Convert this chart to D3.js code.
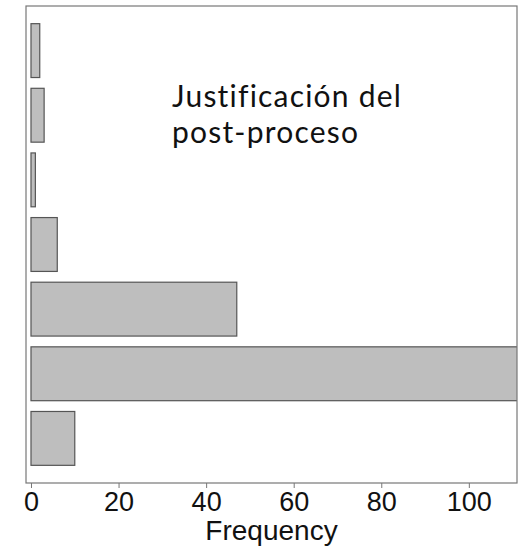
<!DOCTYPE html>
<html><head><meta charset="utf-8">
<script src="https://cdn.jsdelivr.net/npm/d3@7"></script>
<style>body{margin:0;background:#fff}</style>
</head><body>
<svg id="c" width="529" height="546"></svg>
<script>
// categories listed bottom to top (R barplot order)
const categories = ["c1","c2","c3","c4","c5","c6","c7"];
const values = [10, 120, 47, 6, 1, 3, 2];
const xTicks = [0, 20, 40, 60, 80, 100];
const xLabel = "Frequency";
const titleLines = ["Justificación del", "post-proceso"];

const svg = d3.select("#c");
const L = 26, R = 517, T = 6, B = 483;
const x = d3.scaleLinear().domain([-1.14, 111]).range([L, R]);
const y = d3.scaleLinear().domain([-0.128, 8.728]).range([B, T]);

svg.append("clipPath").attr("id","clip").append("rect")
  .attr("x", L).attr("y", T).attr("width", R - L).attr("height", B - T);

svg.append("g").attr("clip-path","url(#clip)")
  .selectAll("rect").data(values).join("rect")
  .attr("x", x(0))
  .attr("y", (d,i) => y(0.2 + 1.2*i + 1))
  .attr("width", d => x(d) - x(0))
  .attr("height", (d,i) => y(0.2 + 1.2*i) - y(0.2 + 1.2*i + 1))
  .attr("fill", "#bebebe")
  .attr("stroke", "#555")
  .attr("stroke-width", 1.2);

svg.append("rect").attr("x", L).attr("y", T).attr("width", R - L).attr("height", B - T)
  .attr("fill","none").attr("stroke","#777").attr("stroke-width",1.2);

const ax = svg.append("g").attr("transform", `translate(0,${B})`)
  .call(d3.axisBottom(x).tickValues(xTicks).tickSize(5).tickPadding(4));
ax.attr("font-family", null).attr("font-size", null);
ax.select(".domain").remove();
ax.selectAll("line").attr("stroke","#777");
ax.selectAll("text").style("font-family","'Liberation Sans', Arial, sans-serif")
  .style("font-size", "27px").attr("fill","#111");

svg.append("text").attr("x", (L + R) / 2).attr("y", 540).attr("text-anchor","middle")
  .style("font-family","'Liberation Sans', Arial, sans-serif").style("font-size", "28px")
  .attr("fill","#111").text(xLabel);

svg.append("g").selectAll("text").data(titleLines).join("text")
  .attr("x", 172).attr("y", (d,i) => 107 + i*36)
  .style("font-family","Lato, 'Open Sans', sans-serif").style("font-size", "30px")
  .style("letter-spacing", "1.2px")
  .attr("fill","#111").text(d => d);
</script>
</body></html>
